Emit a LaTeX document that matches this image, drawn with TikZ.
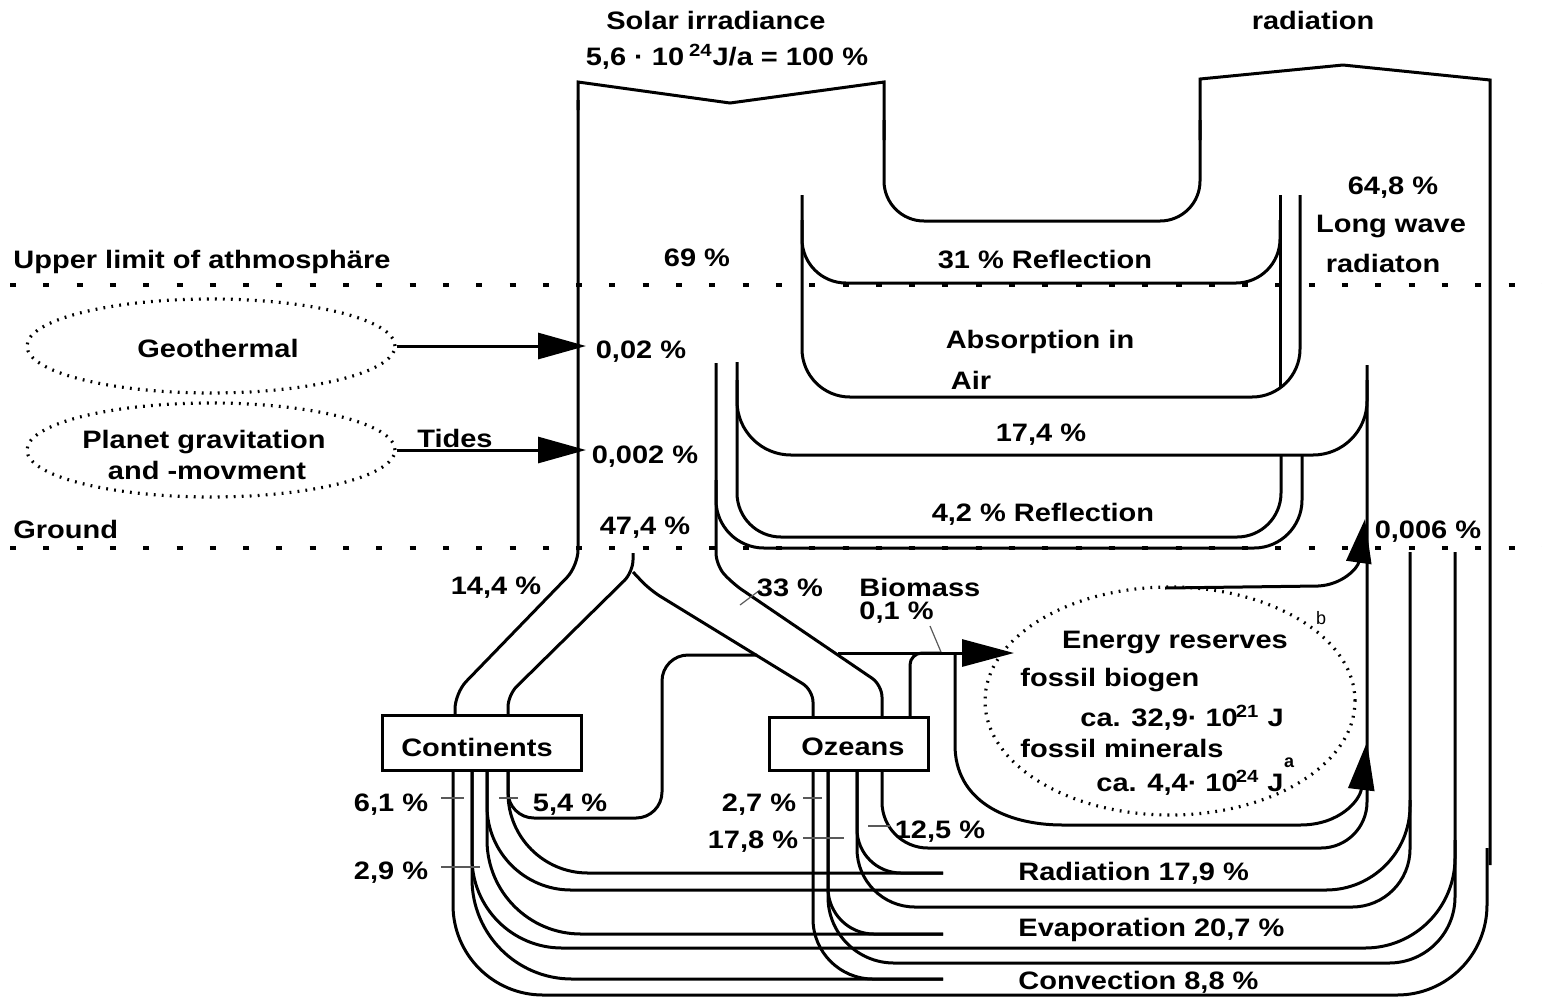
\documentclass[tikz,border=0pt]{standalone}
\usepackage{fontspec}
\setmainfont{Liberation Sans}
\usepackage{graphicx}
\usetikzlibrary{arrows.meta,shapes.geometric}
\newcommand{\tx}[1]{\scalebox{1}[0.87]{#1}}
\begin{document}
\begin{tikzpicture}[x=0.5pt,y=-0.5pt,
  fl/.style={line width=1.5pt},
  ld/.style={line width=0.6pt, black!65},
  gl/.style={line width=1.8pt, dash pattern=on 3pt off 13.65pt},
  dotell/.style={draw, ellipse, inner sep=0pt, line width=1.6pt, dash pattern=on 0.9pt off 3.1pt},
  t/.style={font=\bfseries\fontsize{14.5pt}{17pt}\selectfont, inner sep=0pt},
  sm/.style={font=\fontsize{9pt}{10pt}\selectfont, inner sep=0pt},
  bx/.style={draw, line width=1.5pt, inner sep=0pt},
  tip/.style={-{Triangle[length=24pt,width=13pt]}}
]
\useasboundingbox (0,0) rectangle (1542,998);

% level lines
\draw[gl] (10,285) -- (1542,285);
\draw[gl] (10,548) -- (1542,548);

% nodes
\node[dotell, minimum width=184pt, minimum height=47pt] (geo) at (211,346) {};
\node[dotell, minimum width=184pt, minimum height=47pt] (grav) at (211,450) {};
\node[dotell, minimum width=185pt, minimum height=114pt] (res) at (1170,701) {};
\node[bx, minimum width=99.5pt, minimum height=27.5pt] (cont) at (481.5,742.5) {};
\node[bx, minimum width=79.5pt, minimum height=26.5pt] (oze) at (848.5,743.5) {};
\coordinate (gtip) at (586,346);
\coordinate (ttip) at (586,450);

% arrows from sources
\draw[fl,tip] (geo.east) -- (gtip);
\draw[fl,tip] (grav.east) -- (ttip);

% solar beam
\draw[fl] (578,110) -- (578,82) -- (730,103) -- (884,82) -- (884,140);
\draw[fl,rounded corners=8pt] (578,100) -- (578,566) -- (455,693) -- (455,716);
\draw[fl,rounded corners=20pt] (884,120) -- (884,221) -- (1200,221) -- (1200,120);
\draw[fl] (1200,140) -- (1200,79) -- (1343,65) -- (1490,80) -- (1490,865);

% reflection / absorption in air
\draw[fl,rounded corners=24pt] (802,195) -- (802,397) -- (1300,397) -- (1300,195);
\draw[fl,rounded corners=22pt] (802,220) -- (802,283) -- (1280,283) -- (1280,220);
\draw[fl] (1280,195) -- (1280,388);

% 17,4 % and 4,2 % bands
\draw[fl,rounded corners=27pt] (737,380) -- (737,455) -- (1367,455) -- (1367,380);
\draw[fl,rounded corners=22pt] (737,362) -- (737,537) -- (1281,537) -- (1281,455);
\draw[fl,rounded corners=24pt] (716,480) -- (716,548) -- (1302,548) -- (1302,455);

% fork and ocean branch
\draw[fl,rounded corners=6pt] (633,553) -- (633,572) -- (508,695) -- (508,716);
\draw[fl,rounded corners=6pt] (633,572) -- (650,590) -- (813,690) -- (813,717);
\draw[fl,rounded corners=6pt] (716,363) -- (716,565) -- (732,583) -- (882,685) -- (882,717);

% continents outflows
\draw[fl,rounded corners=45pt] (453,770) -- (453,995) -- (1487,995) -- (1487,848);
\draw[fl,rounded corners=50pt] (472,770) -- (472,979) -- (943,979);
\draw[fl,rounded corners=45pt] (472,770) -- (472,948) -- (1455,948) -- (1455,552);
\draw[fl,rounded corners=47pt] (487,770) -- (487,934) -- (943,934);
\draw[fl,rounded corners=42pt] (487,770) -- (487,890) -- (1410,890) -- (1410,552);
\draw[fl,rounded corners=40pt] (508,770) -- (508,873) -- (943,873);
\draw[fl,rounded corners=13pt] (508,770) -- (508,818) -- (662,818) -- (662,655) -- (757,655);

% oceans outflows
\draw[fl,rounded corners=23pt] (882,770) -- (882,848) -- (1367,848) -- (1367,365);
\draw[fl,rounded corners=22pt] (857,770) -- (857,873) -- (943,873);
\draw[fl,rounded corners=29pt] (857,770) -- (857,907) -- (1410,907) -- (1410,800);
\draw[fl,rounded corners=23pt] (828,770) -- (828,934) -- (943,934);
\draw[fl,rounded corners=33pt] (828,770) -- (828,963) -- (1455,963) -- (1455,840);
\draw[fl,rounded corners=30pt] (813,770) -- (813,979) -- (943,979);

% biomass
\draw[fl,rounded corners=6pt] (910,717) -- (910,653) -- (940,653);
\coordinate (btip) at (1014,653);
\draw[fl,-{Triangle[length=26pt,width=13.5pt]}] (838,653) -- (btip);
\coordinate (a2tip) at (1367,742);
\draw[fl,tip] (955,653) -- (955,745) .. controls (955,800) and (1005,825) .. (1063,825) -- (1300,825) .. controls (1340,825) and (1360,800) .. (a2tip);
\coordinate (a1tip) at (1365,519);
\draw[fl,-{Triangle[length=22pt,width=12.5pt]}] (1165,588) -- (1318,586) .. controls (1342,585) and (1358,568) .. (a1tip);

% leaders
\draw[ld] (441,798) -- (464,798);
\draw[ld] (499,798) -- (518,798);
\draw[ld] (441,867) -- (480,867);
\draw[ld] (803,798) -- (822,798);
\draw[ld] (803,838) -- (844,838);
\draw[ld] (868,826) -- (890,826);
\draw[ld] (740,605) -- (760,590);
\draw[ld] (930,626) -- (941,652);

% labels
\node[t] (l1) at (716,20) {\tx{Solar irradiance}};
\node[t] (l2) at (727,57) {\tx{5,6 · 10\,\textsuperscript{24}J/a = 100 \%}};
\node[t] (l3) at (1313,20) {\tx{radiation}};
\node[t] (l4) at (1393,188) {\tx{64,8 \%}};
\node[t] (l5) at (1391,226) {\tx{Long wave}};
\node[t] (l6) at (1383,263) {\tx{radiaton}};
\node[t,anchor=west] (l7) at (13,262) {\tx{Upper limit of athmosphäre}};
\node[t] (l8) at (697,258) {\tx{69 \%}};
\node[t] (l9) at (1045,259) {\tx{31 \% Reflection}};
\node[t] (l10) at (1040,342) {\tx{Absorption in}};
\node[t] (l11) at (971,380) {\tx{Air}};
\node[t] (l12) at (641,352) {\tx{0,02 \%}};
\node[t] (l13) at (645,457) {\tx{0,002 \%}};
\node[t] (l14) at (1041,435) {\tx{17,4 \%}};
\node[t] (l15) at (1043,514) {\tx{4,2 \% Reflection}};
\node[t,anchor=west] (l16) at (13,529) {\tx{Ground}};
\node[t] (l17) at (645,528) {\tx{47,4 \%}};
\node[t] (l18) at (1428,532) {\tx{0,006 \%}};
\node[t] (l19) at (496,588) {\tx{14,4 \%}};
\node[t] (l20) at (790,588) {\tx{33 \%}};
\node[t,anchor=west] (l21) at (859,587) {\tx{Biomass}};
\node[t,anchor=west] (l22) at (859,613) {\tx{0,1 \%}};
\node[t] (l23) at (218,348) {\tx{Geothermal}};
\node[t] (l24) at (204,442) {\tx{Planet gravitation}};
\node[t] (l25) at (207,470) {\tx{and -movment}};
\node[t] (l26) at (455,438) {\tx{Tides}};
\node[t] (l27) at (1175,642) {\tx{Energy reserves}};
\node[t,anchor=west] (l28) at (1020,680) {\tx{fossil biogen}};
\node[t,anchor=west] (l29) at (1080,718) {\tx{ca. 32,9· 10\kern-1pt\textsuperscript{21} J}};
\node[t,anchor=west] (l30) at (1020,748) {\tx{fossil minerals}};
\node[t,anchor=west] (l31) at (1096,783) {\tx{ca. 4,4· 10\kern-1pt\textsuperscript{24} J}};
\node[sm,font=\bfseries\fontsize{9pt}{10pt}\selectfont] (l32) at (1289,763) {a};
\node[sm] (l33) at (1321,618) {b};
\node[t] (l34) at (477,747) {\tx{Continents}};
\node[t] (l35) at (853,747) {\tx{Ozeans}};
\node[t] (l36) at (391,805) {\tx{6,1 \%}};
\node[t] (l37) at (570,805) {\tx{5,4 \%}};
\node[t] (l38) at (759,805) {\tx{2,7 \%}};
\node[t] (l39) at (753,842) {\tx{17,8 \%}};
\node[t] (l40) at (940,832) {\tx{12,5 \%}};
\node[t] (l41) at (391,873) {\tx{2,9 \%}};
\node[t,anchor=west] (l42) at (1018,873) {\tx{Radiation 17,9 \%}};
\node[t,anchor=west] (l43) at (1018,930) {\tx{Evaporation 20,7 \%}};
\node[t,anchor=west] (l44) at (1018,982) {\tx{Convection 8,8 \%}};
\end{tikzpicture}
\end{document}
